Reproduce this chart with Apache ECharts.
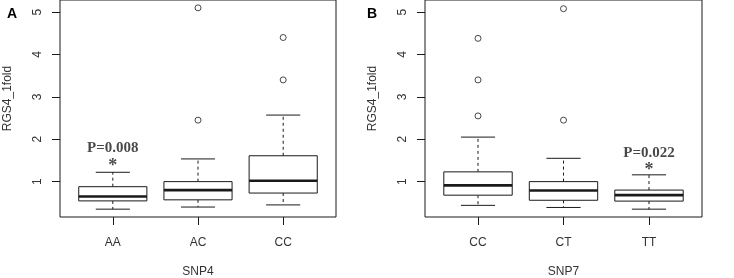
<!DOCTYPE html>
<html>
<head>
<meta charset="utf-8">
<script src="https://cdn.jsdelivr.net/npm/echarts@6/dist/echarts.min.js"></script>
<style>
  html, body { margin: 0; padding: 0; background: #fff; }
  #chart { width: 734px; height: 278px; }
</style>
</head>
<body>
<div id="chart"></div>
<script>
// categories
const snp4Cats = ['AA', 'AC', 'CC'];
const snp7Cats = ['CC', 'CT', 'TT'];

// box stats: [min, Q1, median, Q3, max]
const snp4Stats = [
    [0.35, 0.545, 0.65, 0.88, 1.22],
    [0.40, 0.57, 0.80, 1.00, 1.535],
    [0.45, 0.73, 1.02, 1.61, 2.57]
];
const snp7Stats = [
    [0.44, 0.68, 0.91, 1.23, 2.05],
    [0.39, 0.56, 0.79, 1.00, 1.55],
    [0.35, 0.54, 0.68, 0.80, 1.16]
];

// outliers: [group position, value]
const snp4Outliers = [[2, 2.45], [2, 5.1], [3, 3.4], [3, 4.4]];
const snp7Outliers = [[1, 2.55], [1, 3.4], [1, 4.38], [2, 2.45], [2, 5.08]];

// significance notes: [group position, value, text]
const snp4Notes = [[1, 1.78, 'P=0.008'], [1, 1.36, '*']];
const snp7Notes = [[3, 1.68, 'P=0.022'], [3, 1.27, '*']];

const yTicks = [1, 2, 3, 4, 5];
const xTicks = [1, 2, 3];

const ink = '#1a1a1a';
const sans = 'Liberation Sans';

function withPos(stats) {
    return stats.map((s, i) => [i + 1].concat(s));
}

function renderBox(params, api) {
    const x = api.value(0);
    const lo = api.coord([x, api.value(1)]);
    const q1 = api.coord([x, api.value(2)]);
    const med = api.coord([x, api.value(3)]);
    const q3 = api.coord([x, api.value(4)]);
    const hi = api.coord([x, api.value(5)]);
    const half = api.size([0.4, 0])[0];
    const cap = api.size([0.2, 0])[0];
    const cx = lo[0];
    const solid = { stroke: ink, lineWidth: 1, fill: null };
    const dash = { stroke: ink, lineWidth: 1, lineDash: [3, 3] };
    return {
        type: 'group',
        children: [
            { type: 'line', shape: { x1: cx, y1: q3[1], x2: cx, y2: hi[1] }, style: dash },
            { type: 'line', shape: { x1: cx, y1: q1[1], x2: cx, y2: lo[1] }, style: dash },
            { type: 'line', shape: { x1: cx - cap, y1: hi[1], x2: cx + cap, y2: hi[1] }, style: solid },
            { type: 'line', shape: { x1: cx - cap, y1: lo[1], x2: cx + cap, y2: lo[1] }, style: solid },
            { type: 'rect', shape: { x: cx - half, y: q3[1], width: half * 2, height: q1[1] - q3[1] },
              style: { stroke: ink, lineWidth: 1, fill: '#fff' } },
            { type: 'line', shape: { x1: cx - half, y1: med[1], x2: cx + half, y2: med[1] },
              style: { stroke: ink, lineWidth: 2.6 } }
        ]
    };
}

function xAxisFor(idx, cats, title) {
    return {
        type: 'value', gridIndex: idx, min: 0.38, max: 3.62,
        name: title, nameLocation: 'middle', nameGap: 49,
        nameTextStyle: { fontFamily: sans, fontSize: 12, color: '#333' },
        splitLine: { show: false },
        axisLine: { show: false },
        axisTick: { show: true, customValues: xTicks, length: 8, lineStyle: { color: ink } },
        axisLabel: {
            customValues: xTicks, margin: 20,
            fontFamily: sans, fontSize: 12, color: '#333',
            formatter: v => cats[Math.round(v) - 1] || ''
        }
    };
}

function yAxisFor(idx) {
    return {
        type: 'value', gridIndex: idx, min: 0.165, max: 5.285,
        name: 'RGS4_1fold', nameLocation: 'middle', nameGap: 46, nameRotate: 90,
        nameTextStyle: { fontFamily: sans, fontSize: 12, color: '#333', padding: [0, 0, 0, 20] },
        splitLine: { show: false },
        axisLine: { show: false },
        axisTick: { show: true, customValues: yTicks, length: 8, lineStyle: { color: ink } },
        axisLabel: {
            customValues: yTicks, rotate: 90, margin: 16,
            fontFamily: sans, fontSize: 12, color: '#333'
        }
    };
}

function noteSeries(idx, notes) {
    return {
        type: 'scatter', xAxisIndex: idx, yAxisIndex: idx,
        symbolSize: 1, itemStyle: { color: 'transparent' },
        data: notes.map(n => ({ value: [n[0], n[1]], name: n[2] })),
        label: {
            show: true, position: 'inside',
            formatter: p => p.name === '*' ? '{s|*}' : p.name,
            fontFamily: 'Liberation Serif', fontWeight: 'bold', fontSize: 15, color: ink,
            rich: { s: { fontFamily: 'Liberation Serif', fontWeight: 'bold', fontSize: 18, color: ink } }
        },
        silent: true
    };
}

function outlierSeries(idx, pts) {
    return {
        type: 'scatter', xAxisIndex: idx, yAxisIndex: idx,
        symbol: 'circle', symbolSize: 6,
        itemStyle: { color: '#fff', borderColor: ink, borderWidth: 1 },
        data: pts
    };
}

const chart = echarts.init(document.getElementById('chart'));
chart.setOption({
    animation: false,
    title: [
        { text: 'A', left: 2, top: 2, textStyle: { fontFamily: sans, fontSize: 14, fontWeight: 'bold', color: '#000' } },
        { text: 'B', left: 362, top: 2, textStyle: { fontFamily: sans, fontSize: 14, fontWeight: 'bold', color: '#000' } }
    ],
    grid: [
        { left: 60, top: 0, width: 276, height: 217, outerBoundsMode: 'none', containLabel: false,
          show: true, borderColor: ink, borderWidth: 1, backgroundColor: 'transparent' },
        { left: 425, top: 0, width: 277, height: 217, outerBoundsMode: 'none', containLabel: false,
          show: true, borderColor: ink, borderWidth: 1, backgroundColor: 'transparent' }
    ],
    xAxis: [xAxisFor(0, snp4Cats, 'SNP4'), xAxisFor(1, snp7Cats, 'SNP7')],
    yAxis: [yAxisFor(0), yAxisFor(1)],
    series: [
        { type: 'custom', xAxisIndex: 0, yAxisIndex: 0, renderItem: renderBox, data: withPos(snp4Stats) },
        { type: 'custom', xAxisIndex: 1, yAxisIndex: 1, renderItem: renderBox, data: withPos(snp7Stats) },
        outlierSeries(0, snp4Outliers),
        outlierSeries(1, snp7Outliers),
        noteSeries(0, snp4Notes),
        noteSeries(1, snp7Notes)
    ]
});
</script>
</body>
</html>
